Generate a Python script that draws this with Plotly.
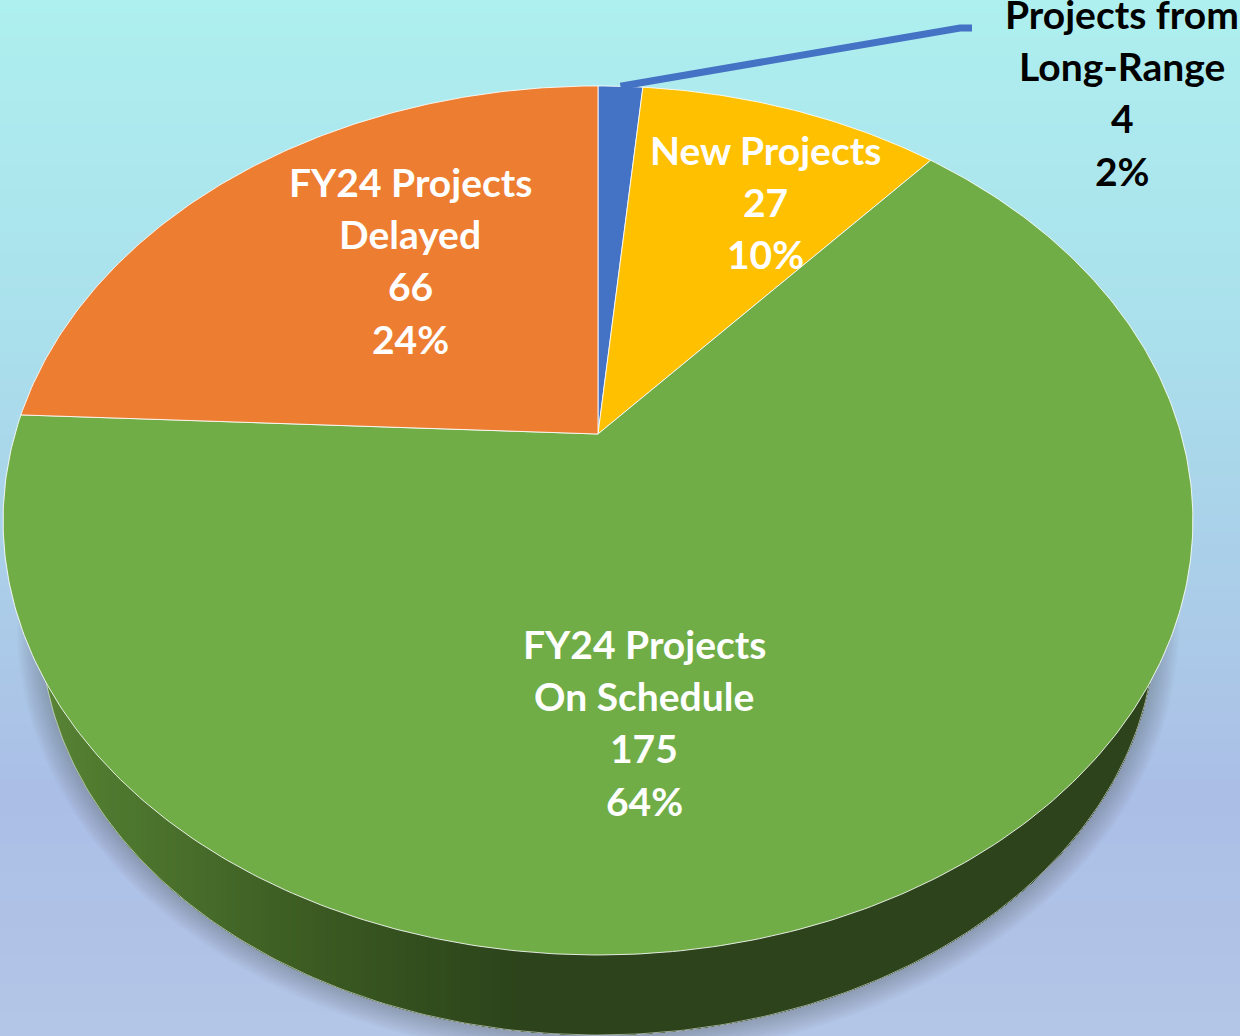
import numpy as np
import plotly.graph_objects as go

# ---- data ----
categories = ["Projects from Long-Range", "New Projects", "FY24 Projects On Schedule", "FY24 Projects Delayed"]
values = [4, 27, 175, 66]
percents = ["2%", "10%", "64%", "24%"]
label_lines = [["Projects from", "Long-Range"], ["New Projects"], ["FY24 Projects", "On Schedule"], ["FY24 Projects", "Delayed"]]
slice_colors = ["#4472C4", "#FFC000", "#70AD47", "#ED7D31"]
text_colors = ["#000000", "#FFFFFF", "#FFFFFF", "#FFFFFF"]
label_x = [1122, 765, 644, 410]
label_y0 = [14, 150, 644, 182]

# ---- perspective pie geometry ----
W, H = 1240, 1036
APEX_X, APEX_Y = 598, 434
A, B, K = 583.0, 417.3, 0.199
LINE_STEP = 52.2
FONT = "Lato"
FONT_SIZE = 39


def project(theta):
    u, v = np.sin(theta), np.cos(theta)
    d = 1 + K * v
    return APEX_X + A * u / d, APEX_Y - B * v / d


def ellipse(cx, cy, a, b, t):
    return cx + a * np.cos(t), cy + b * np.sin(t)


fig = go.Figure()

# background gradient
fig.add_trace(go.Heatmap(
    x=[-20, W + 20], y=[-20, 330, 800, H + 20],
    z=[[0, 0], [0.33, 0.33], [0.75, 0.75], [1, 1]],
    zsmooth="best", showscale=False, hoverinfo="skip",
    colorscale=[[0, "#AEF0EF"], [0.33, "#AAE0EC"], [0.75, "#ABBEE6"], [1, "#B4C7E7"]],
))

# soft shadow under the pie edge
LOW_CX, LOW_CY, LOW_A, LOW_B = 598, 626, 557, 409
t_all = np.linspace(0, 2 * np.pi, 361)
for g in np.arange(24, 0, -2):
    x, y = ellipse(LOW_CX, LOW_CY, LOW_A + g, LOW_B + g, t_all)
    fig.add_trace(go.Scatter(x=x, y=y, mode="lines", fill="toself", line=dict(width=0),
                             fillcolor="rgba(60,60,70,0.028)", hoverinfo="skip"))

# side wall with a left-to-right shade (vertical bands, painted left to right)
shade_x = [41, 100, 170, 280, 400, 520]
shade_r = [90, 79, 74, 62, 52, 44]
shade_g = [133, 122, 112, 95, 80, 67]
shade_b = [54, 47, 44, 36, 30, 27]
for xs in np.arange(41, 528, 5):
    r = np.interp(xs, shade_x, shade_r)
    gc = np.interp(xs, shade_x, shade_g)
    b = np.interp(xs, shade_x, shade_b)
    t0 = np.arccos(np.clip((xs - LOW_CX) / LOW_A, -1, 1))
    t = np.linspace(t0, 0, 120)
    x, y = ellipse(LOW_CX, LOW_CY, LOW_A, LOW_B, t)
    fig.add_trace(go.Scatter(x=np.r_[xs, x, x[-1], xs], y=np.r_[LOW_CY, y, LOW_CY, LOW_CY],
                             mode="lines", fill="toself", line=dict(width=0),
                             fillcolor=f"rgb({r:.0f},{gc:.0f},{b:.0f})", hoverinfo="skip"))
t = np.linspace(0, np.pi, 241)
x, y = ellipse(LOW_CX, LOW_CY, LOW_A, LOW_B, t)
fig.add_trace(go.Scatter(x=x, y=y, mode="lines", line=dict(color="rgba(255,255,255,0.55)", width=1),
                         hoverinfo="skip"))

# slices, computed from the values
total = sum(values)
cum = np.cumsum([0] + values) / total * 2 * np.pi
for i, cat in enumerate(categories):
    th = np.linspace(cum[i], cum[i + 1], max(3, int((cum[i + 1] - cum[i]) * 90)))
    px, py = project(th)
    fig.add_trace(go.Scatter(
        x=np.r_[APEX_X, px, APEX_X], y=np.r_[APEX_Y, py, APEX_Y],
        mode="lines", fill="toself", fillcolor=slice_colors[i], name=cat,
        line=dict(color="rgba(255,255,255,0.85)", width=1), hoverinfo="skip"))

# leader line of the smallest slice
mid = (cum[0] + cum[1]) / 2
lx, ly = project(mid)
fig.add_trace(go.Scatter(x=[lx, 960, 972], y=[ly, 28, 28], mode="lines",
                         line=dict(color=slice_colors[0], width=7), hoverinfo="skip"))

# labels
for i in range(len(categories)):
    lines = label_lines[i] + [str(values[i]), percents[i]]
    for j, s in enumerate(lines):
        fig.add_annotation(x=label_x[i], y=label_y0[i] + j * LINE_STEP, text=f"<b>{s}</b>",
                           showarrow=False, xanchor="center", yanchor="middle",
                           font=dict(family=FONT, size=FONT_SIZE, color=text_colors[i]))

fig.update_layout(
    width=W, height=H, margin=dict(l=0, r=0, t=0, b=0), showlegend=False,
    paper_bgcolor="#AEF0EF", plot_bgcolor="rgba(0,0,0,0)",
    xaxis=dict(range=[0, W], visible=False, fixedrange=True),
    yaxis=dict(range=[H, 0], visible=False, fixedrange=True),
)
fig.write_html("out.html", config={"displayModeBar": False},
               post_script="document.body.style.margin='0';")
